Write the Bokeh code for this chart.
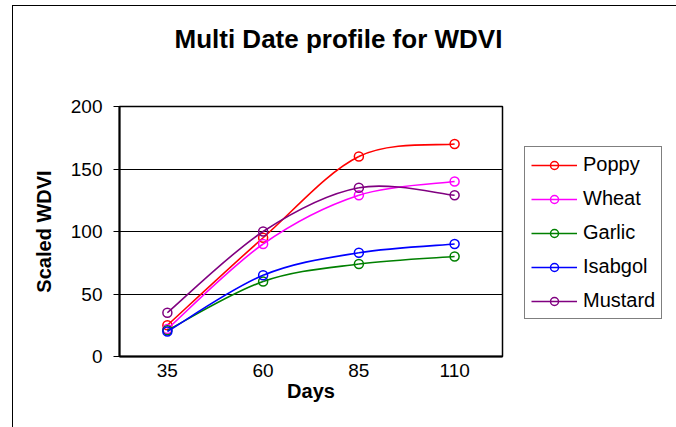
from bokeh.plotting import figure
from bokeh.models import ColumnDataSource, Legend, LegendItem, FixedTicker, Range1d, Title
from bokeh.embed import file_html
from bokeh.resources import INLINE
import numpy as np

# ---- data ----
days = [35, 60, 85, 110]
day_labels = ["35", "60", "85", "110"]
poppy = [25, 95, 160, 170]
wheat = [22, 90, 129, 140]
garlic = [21, 60, 74, 80]
isabgol = [20, 65, 83, 90]
mustard = [35, 100, 135, 129]
series_names = ["Poppy", "Wheat", "Garlic", "Isabgol", "Mustard"]
series_values = [poppy, wheat, garlic, isabgol, mustard]
series_colors = ["#FF0000", "#FF00FF", "#008000", "#0000FF", "#800080"]
y_ticks = [0, 50, 100, 150, 200]

FONT = "Liberation Sans"

p = figure(frame_width=383, frame_height=250, output_backend="svg", toolbar_location=None,
           x_range=Range1d(22.5, 122.5), y_range=Range1d(0, 200),
           min_border_left=106, min_border_right=164, min_border_top=100,
           min_border_bottom=72, background_fill_color="white",
           border_fill_color="white")
p.styles = {"border": "1.5px solid black", "margin-left": "12px", "margin-top": "5px"}

p.title.text = "Multi Date profile for WDVI"
p.title.text_font = FONT
p.title.text_font_size = "26px"
p.title.text_font_style = "bold"
p.title.text_color = "black"
p.title.align = "left"
p.title.offset = 55
p.title.standoff = 0

# blank spacer between the title and the plot area
spacer = Title(text=" ", text_font_size="10px", standoff=40)
p.add_layout(spacer, "above")

p.outline_line_color = "black"
p.outline_line_width = 1.5

p.xgrid.visible = False
p.ygrid.grid_line_color = "black"
p.ygrid.grid_line_width = 1
p.ygrid.ticker = FixedTicker(ticks=y_ticks)

p.xaxis.ticker = FixedTicker(ticks=days)
p.xaxis.major_label_overrides = {d: l for d, l in zip(days, day_labels)}
p.xaxis.major_tick_out = 0
p.xaxis.major_tick_in = 0
p.xaxis.minor_tick_line_color = None
p.xaxis.axis_line_width = 2
p.xaxis.axis_line_color = "black"
p.xaxis.major_label_text_font = FONT
p.xaxis.major_label_text_font_size = "19px"
p.xaxis.major_label_text_color = "black"
p.xaxis.major_label_standoff = 7
p.xaxis.axis_label = "Days"
p.xaxis.axis_label_text_font = FONT
p.xaxis.axis_label_text_font_size = "20px"
p.xaxis.axis_label_text_font_style = "bold"
p.xaxis.axis_label_text_color = "black"
p.xaxis.axis_label_standoff = 0

p.yaxis.ticker = FixedTicker(ticks=y_ticks)
p.yaxis.major_tick_out = 6
p.yaxis.major_tick_in = 0
p.yaxis.major_tick_line_color = "black"
p.yaxis.minor_tick_line_color = None
p.yaxis.axis_line_width = 2
p.yaxis.axis_line_color = "black"
p.yaxis.major_label_text_font = FONT
p.yaxis.major_label_text_font_size = "19px"
p.yaxis.major_label_text_color = "black"
p.yaxis.major_label_standoff = 11
p.yaxis.axis_label = "Scaled WDVI"
p.yaxis.axis_label_text_font = FONT
p.yaxis.axis_label_text_font_size = "20px"
p.yaxis.axis_label_text_font_style = "bold"
p.yaxis.axis_label_text_color = "black"
p.yaxis.axis_label_standoff = 13


def smooth_segments(xs, ys):
    """Catmull-Rom style Bezier control points (like a spreadsheet's smoothed line)."""
    x = np.asarray(xs, float)
    y = np.asarray(ys, float)
    n = len(x)
    xp = np.concatenate([[x[0]], x, [x[-1]]])
    yp = np.concatenate([[y[0]], y, [y[-1]]])
    d = dict(x0=[], y0=[], x1=[], y1=[], cx0=[], cy0=[], cx1=[], cy1=[])
    for i in range(n - 1):
        j = i + 1
        d["x0"].append(x[i]); d["y0"].append(y[i])
        d["x1"].append(x[i + 1]); d["y1"].append(y[i + 1])
        d["cx0"].append(x[i] + (xp[j + 1] - xp[j - 1]) / 6)
        d["cy0"].append(y[i] + (yp[j + 1] - yp[j - 1]) / 6)
        d["cx1"].append(x[i + 1] - (xp[j + 2] - xp[j]) / 6)
        d["cy1"].append(y[i + 1] - (yp[j + 2] - yp[j]) / 6)
    return d


items = []
for name, vals, col in zip(series_names, series_values, series_colors):
    bz = p.bezier(x0="x0", y0="y0", x1="x1", y1="y1", cx0="cx0", cy0="cy0",
                  cx1="cx1", cy1="cy1", source=ColumnDataSource(smooth_segments(days, vals)),
                  line_color=col, line_width=1.6)
    sc = p.scatter(days, vals, marker="circle", size=9, fill_color=None,
                   line_color=col, line_width=1.5)
    items.append(LegendItem(label=name, renderers=[bz, sc]))

legend = Legend(items=items, location=(22, 37))
legend.label_text_font = FONT
legend.label_text_font_size = "20px"
legend.label_text_color = "black"
legend.glyph_width = 46
legend.glyph_height = 20
legend.label_height = 20
legend.spacing = 11
legend.padding = 6
legend.label_standoff = 6
legend.border_line_color = "black"
legend.border_line_width = 1
legend.background_fill_color = "white"
p.add_layout(legend, "right")

open("out.html", "w").write(file_html(p, INLINE))
